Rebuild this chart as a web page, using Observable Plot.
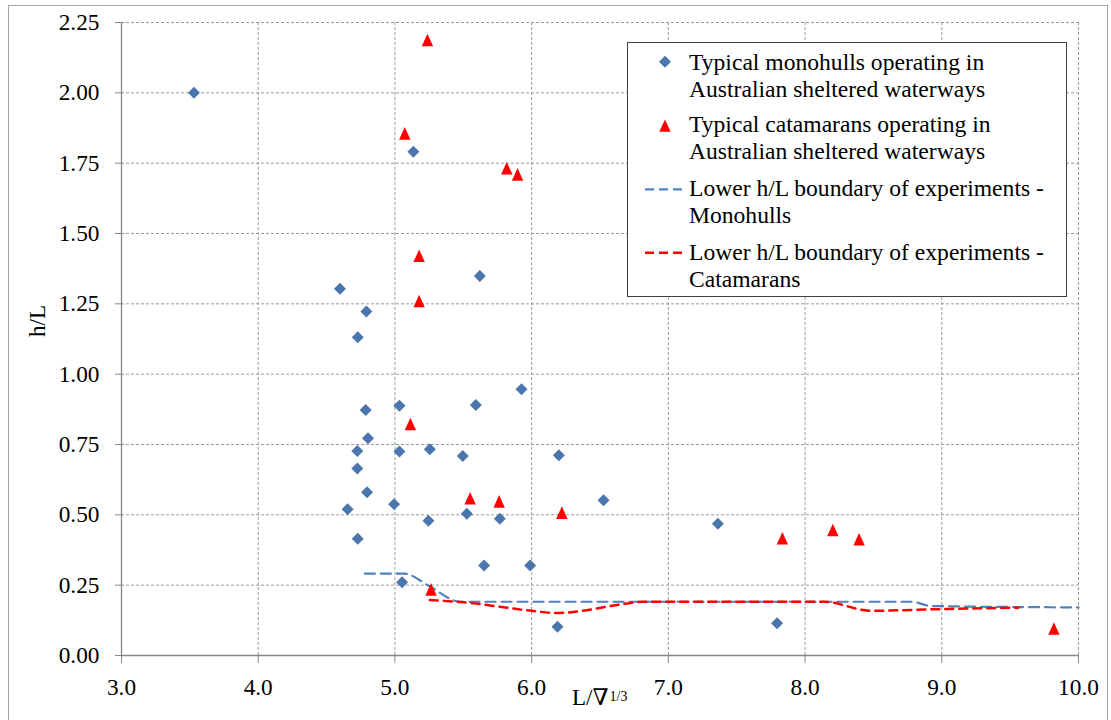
<!DOCTYPE html>
<html>
<head>
<meta charset="utf-8">
<script src="https://cdn.jsdelivr.net/npm/d3@7"></script>
<script src="https://cdn.jsdelivr.net/npm/@observablehq/plot@0.6"></script>
<style>
  html, body { margin: 0; padding: 0; background: #fff; }
  #wrap { position: relative; width: 1111px; height: 720px; overflow: hidden; font-family: "Liberation Serif", "Times New Roman", Tinos, "DejaVu Serif", serif; }
  #chart { position: absolute; left: 0; top: 0; }
  #chart svg, #chart svg text { font-family: "Liberation Serif", "Times New Roman", Tinos, "DejaVu Serif", serif !important; }
  #frame { position: absolute; left: 8px; top: 5px; width: 1100px; height: 730px; border: 1.5px solid #a6a6a6; box-sizing: border-box; pointer-events: none; }
  #legend { position: absolute; left: 627px; top: 42px; width: 440px; height: 255px; box-sizing: border-box; border: 1px solid #404040; background: #fff; font-size: 23.6px; color: #000; }
  #legend .entry { position: absolute; left: 61px; line-height: 26.7px; white-space: nowrap; }
  #legend svg { position: absolute; left: 0; top: 0; }
</style>
</head>
<body>
<div id="wrap">
  <div id="chart"></div>
  <div id="frame"></div>
  <div id="legend"></div>
</div>
<script>
// Axis ticks
const xTicks = [3, 4, 5, 6, 7, 8, 9, 10];
const yTicks = [0, 0.25, 0.5, 0.75, 1.0, 1.25, 1.5, 1.75, 2.0, 2.25];

// Typical monohulls (blue diamonds)
const monoX = [3.53, 5.135, 5.621, 4.598, 4.791, 4.728, 5.926, 5.033, 5.592, 4.786, 4.803, 4.725, 5.033, 5.255, 5.496, 6.199, 4.725, 4.796, 6.526, 4.994, 4.654, 5.526, 5.767, 5.245, 7.362, 4.728, 5.652, 5.989, 5.052, 6.189, 7.795];
const monoY = [2.000, 1.791, 1.349, 1.304, 1.223, 1.131, 0.946, 0.888, 0.890, 0.873, 0.772, 0.727, 0.725, 0.733, 0.709, 0.712, 0.665, 0.580, 0.552, 0.538, 0.520, 0.504, 0.486, 0.479, 0.468, 0.415, 0.320, 0.320, 0.260, 0.102, 0.115];

// Typical catamarans (red triangles)
const catX = [5.238, 5.072, 5.818, 5.897, 5.177, 5.177, 5.113, 5.550, 5.762, 6.221, 5.264, 7.834, 8.203, 8.395, 9.820];
const catY = [2.188, 1.856, 1.732, 1.710, 1.421, 1.260, 0.823, 0.559, 0.548, 0.508, 0.235, 0.417, 0.446, 0.413, 0.096];

// Lower h/L boundary of experiments - Monohulls
const monoBoundX = [4.78, 5.07, 5.24, 5.48, 8.78, 8.92, 10.0];
const monoBoundY = [0.291, 0.291, 0.250, 0.191, 0.191, 0.176, 0.171];

// Lower h/L boundary of experiments - Catamarans
const catBoundX = [5.255, 5.48, 6.0, 6.18, 6.7, 6.8, 8.14, 8.48, 9.0, 9.56];
const catBoundY = [0.197, 0.190, 0.159, 0.151, 0.185, 0.191, 0.191, 0.159, 0.165, 0.170];

const legendLabels = [
  ["Typical monohulls operating in", "Australian sheltered waterways"],
  ["Typical catamarans operating in", "Australian sheltered waterways"],
  ["Lower h/L boundary of experiments -", "Monohulls"],
  ["Lower h/L boundary of experiments -", "Catamarans"]
];

const BLUE_MARK = "#4a76ad";
const BLUE_LINE = "#4f81bd";
const RED = "#ff0000";
const GRID = "#9a9a9a";
const AXIS = "#868686";
const FONT = "'Liberation Serif', 'Times New Roman', Tinos, 'DejaVu Serif', serif";

const zip = (xs, ys) => xs.map((x, i) => ({x, y: ys[i]}));
const mono = zip(monoX, monoY);
const cat = zip(catX, catY);
const monoBound = zip(monoBoundX, monoBoundY);
const catBound = zip(catBoundX, catBoundY);

const diamond = {
  draw(ctx, size) {
    const r = Math.sqrt(size / Math.PI);
    ctx.moveTo(0, -r); ctx.lineTo(r, 0); ctx.lineTo(0, r); ctx.lineTo(-r, 0); ctx.closePath();
  }
};
const triangle = {
  draw(ctx, size) {
    const r = Math.sqrt(size / Math.PI);
    ctx.moveTo(0, -r * 1.05); ctx.lineTo(r * 0.95, r * 1.05); ctx.lineTo(-r * 0.95, r * 1.05); ctx.closePath();
  }
};

const chart = Plot.plot({
  width: 1111,
  height: 720,
  marginLeft: 121,
  marginRight: 33,
  marginTop: 22,
  marginBottom: 65,
  style: {background: "transparent", fontFamily: FONT, fontSize: "23px", color: "#000"},
  x: {domain: [3, 10]},
  y: {domain: [0, 2.25]},
  marks: [
    Plot.gridX(xTicks.filter(d => d !== 3), {stroke: GRID, strokeOpacity: 1, strokeWidth: 1, strokeDasharray: "3,2"}),
    Plot.gridY(yTicks.filter(d => d !== 0), {stroke: GRID, strokeOpacity: 1, strokeWidth: 1, strokeDasharray: "3,2"}),
    Plot.ruleX([3], {stroke: AXIS, strokeWidth: 1.3}),
    Plot.ruleY([0], {stroke: AXIS, strokeWidth: 1.3}),
    Plot.axisX({ticks: xTicks, tickFormat: d3.format(".1f"), tickSize: 8, tickPadding: 15, fontSize: 23.3, stroke: AXIS, fill: "#000", label: null}),
    Plot.axisY({ticks: yTicks, tickFormat: d3.format(".2f"), tickSize: 6, tickPadding: 16, fontSize: 23.3, stroke: AXIS, fill: "#000", label: null}),
    Plot.line(monoBound, {x: "x", y: "y", stroke: BLUE_LINE, strokeWidth: 2.2, strokeDasharray: "10,6", curve: "monotone-x"}),
    Plot.line(catBound, {x: "x", y: "y", stroke: RED, strokeWidth: 2.5, strokeDasharray: "8,6", curve: "monotone-x"}),
    Plot.dot(mono, {x: "x", y: "y", symbol: diamond, r: 6, fill: BLUE_MARK, stroke: "none"}),
    Plot.dot(cat, {x: "x", y: "y", symbol: triangle, r: 6, fill: RED, stroke: "none"}),
    Plot.text(["h/L"], {text: d => d, frameAnchor: "left", rotate: -90, dx: -84, dy: -2, fontSize: 23, fill: "#000"}),
    Plot.text(["L/\u2207"], {text: d => d, frameAnchor: "bottom", textAnchor: "start", dx: -28, dy: 49, fontSize: 23, fill: "#000"}),
    Plot.text(["1/3"], {text: d => d, frameAnchor: "bottom", textAnchor: "start", dx: 9.5, dy: 45, fontSize: 14, fill: "#000"})
  ]
});
document.getElementById("chart").appendChild(chart);

// Legend
const legend = document.getElementById("legend");
const entryTops = [5.9, 68.2, 131.9, 195.9];
legendLabels.forEach((lines, i) => {
  const div = document.createElement("div");
  div.className = "entry";
  div.style.top = entryTops[i] + "px";
  div.innerHTML = lines.join("<br>");
  legend.appendChild(div);
});
const lsvg = d3.create("svg").attr("width", 440).attr("height", 255);
lsvg.append("path").attr("d", "M37,12.7L43,18.7L37,24.7L31,18.7Z").attr("fill", BLUE_MARK);
lsvg.append("path").attr("d", "M37,76.4L42.7,88.7L31.3,88.7Z").attr("fill", RED);
lsvg.append("line").attr("x1", 17).attr("x2", 56).attr("y1", 146.3).attr("y2", 146.3)
  .attr("stroke", BLUE_LINE).attr("stroke-width", 2.2).attr("stroke-dasharray", "9,5");
lsvg.append("line").attr("x1", 17).attr("x2", 56).attr("y1", 209.7).attr("y2", 209.7)
  .attr("stroke", RED).attr("stroke-width", 2.5).attr("stroke-dasharray", "9,5");
legend.appendChild(lsvg.node());
</script>
</body>
</html>
